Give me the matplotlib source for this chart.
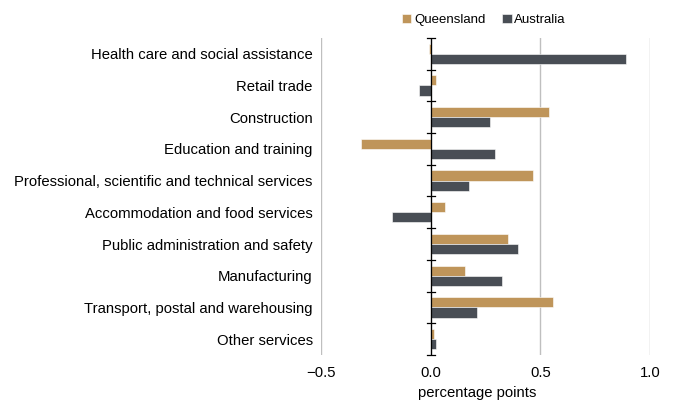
import numpy as np
import matplotlib.pyplot as plt

plt.rcParams['font.family'] = ['Liberation Sans', 'DejaVu Sans']

categories = ["Health care and social assistance", "Retail trade", "Construction",
              "Education and training", "Professional, scientific and technical services",
              "Accommodation and food services", "Public administration and safety",
              "Manufacturing", "Transport, postal and warehousing", "Other services"]
queensland = [-0.006, 0.022, 0.54, -0.32, 0.467, 0.063, 0.352, 0.154, 0.558, 0.016]
australia = [0.89, -0.054, 0.27, 0.293, 0.173, -0.176, 0.40, 0.323, 0.209, 0.022]
xticks = [-0.5, 0.0, 0.5, 1.0]
xticklabels = ["\u22120.5", "0.0", "0.5", "1.0"]

tan = "#BF955A"
dark = "#494E55"

fig = plt.figure(figsize=(6.73, 4.03), dpi=100)
ax = fig.add_axes([0.477, 0.119, 0.489, 0.787])

y = np.arange(len(categories))
h = 0.32
ax.barh(y - h / 2, queensland, height=h, color=tan, edgecolor="white", linewidth=0.4,
        label="Queensland", zorder=3)
ax.barh(y + h / 2, australia, height=h, color=dark, edgecolor="white", linewidth=0.4,
        label="Australia", zorder=3)

ax.set_xlim(-0.5, 1.0)
ax.set_ylim(len(categories) - 0.5, -0.5)
ax.set_xticks(xticks)
ax.set_xticklabels(xticklabels, fontsize=10.7)
ax.set_yticks(y)
ax.set_yticklabels(categories, fontsize=10.7)
ax.tick_params(axis="both", length=0)
ax.tick_params(axis="x", pad=8)
ax.tick_params(axis="y", pad=6)

for s in ax.spines.values():
    s.set_visible(False)
ax.xaxis.grid(True, color="#BFBFBF", linewidth=1)
ax.set_axisbelow(True)

# zero line with category tick marks
ax.axvline(0, color="black", linewidth=0.9, zorder=4)
for b in np.arange(len(categories) + 1) - 0.5:
    ax.plot([-0.018, 0.02], [b, b], color="black", linewidth=0.9, zorder=4,
            clip_on=False)

ax.set_xlabel("percentage points", fontsize=10.7, labelpad=5)
ax.xaxis.set_label_coords(0.475, -0.098)

ax.legend(loc="lower center", bbox_to_anchor=(0.495, 1.02), ncol=2, frameon=False,
          fontsize=9.5, handlelength=0.7, handleheight=0.7, handletextpad=0.2,
          columnspacing=1.3, borderaxespad=0)

fig.savefig("out.png", dpi=100)
